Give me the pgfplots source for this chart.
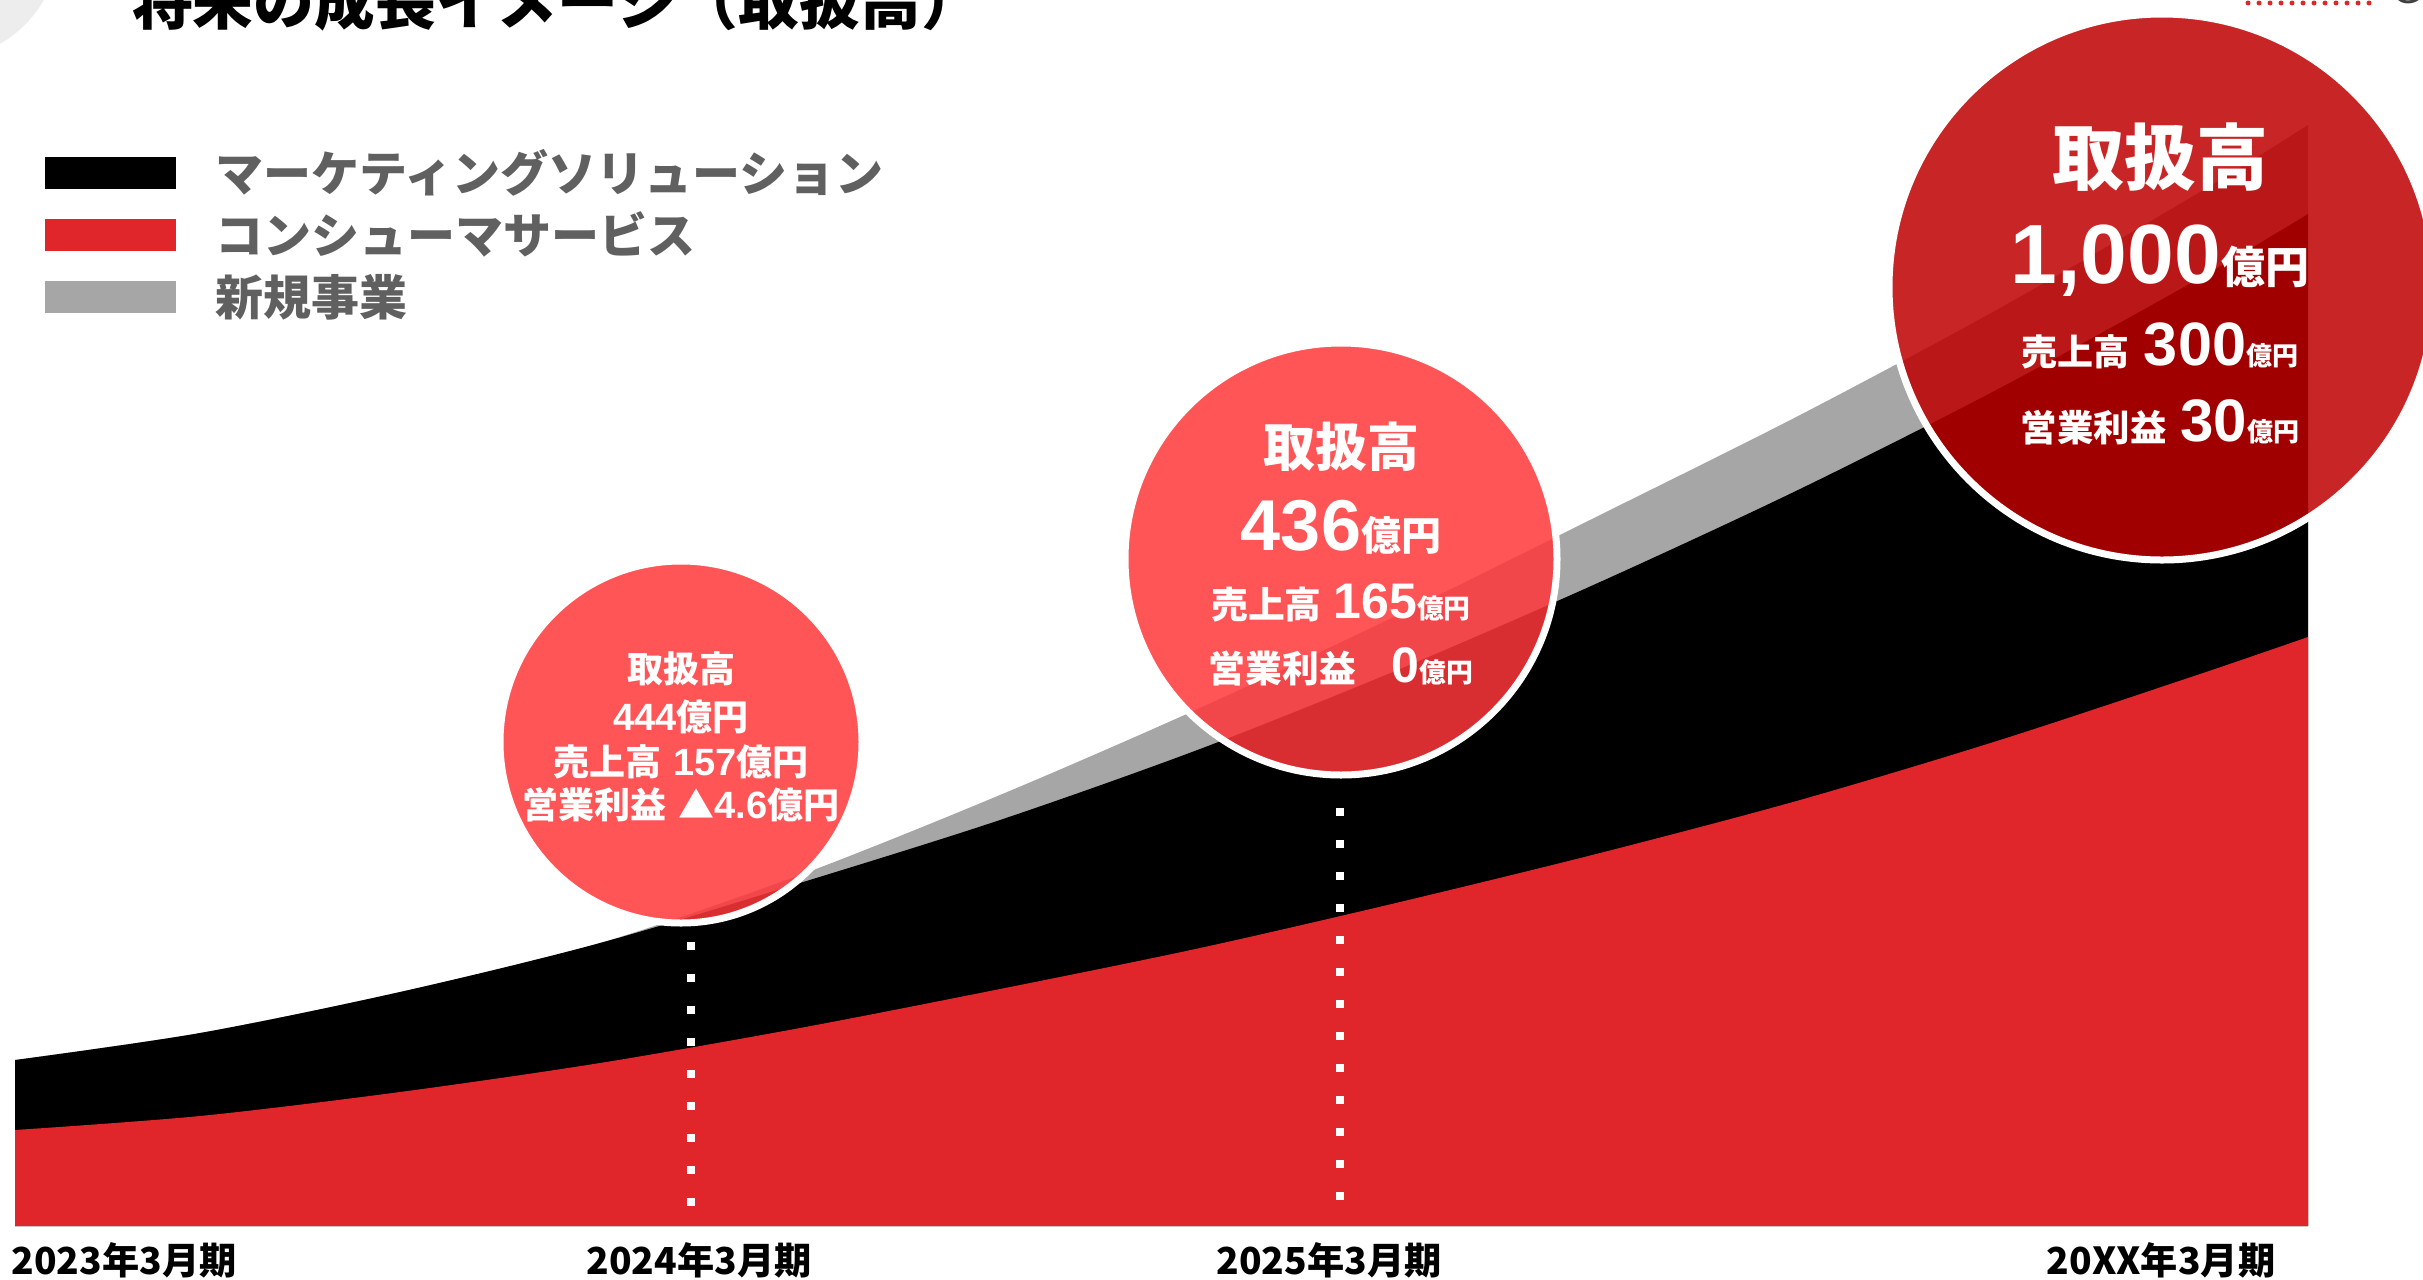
\documentclass[border=0pt]{standalone}
\usepackage{fontspec}
\setmainfont{Liberation Sans}
\newfontfamily\jp{Noto Sans CJK JP}
\usepackage{pgfplots}
\pgfplotsset{compat=1.18}
\definecolor{cred}{HTML}{E0262A}
\definecolor{cgray}{HTML}{A6A6A6}
\definecolor{legtext}{HTML}{606060}
\definecolor{bub1}{RGB}{255,55,58}
\definecolor{bub2}{RGB}{190,0,0}
\definecolor{cornergray}{HTML}{EDEDED}
\newcommand\J[1]{{\jp\bfseries #1}}
\newcommand\N[1]{{\bfseries #1}}
\newcommand\fs[1]{\fontsize{#1}{#1}\selectfont}

\pgfplotstableread{
x     top
15    166
200   193
400   234
600   283
800   351
1000  431
1200  518
1400  612
1600  711
1800  811
2000  918
2200  1034
2308  1101
}\graytop
\pgfplotstableread{
x     top
15    166
200   193
400   234
600   283
800   343
1000  406
1200  477
1400  557
1600  644
1800  737
2000  838
2200  948
2308  1012
}\blacktop
\pgfplotstableread{
x     top
15    96
200   110
400   134
600   163
800   198
1000  237
1200  278
1400  324
1600  373
1800  426
2000  486
2200  552
2308  589
}\redtop

\begin{document}
\begin{tikzpicture}
\begin{axis}[
  scale only axis, width=605.75pt, height=319.75pt,
  xmin=0, xmax=2423, ymin=-53, ymax=1226,
  axis line style={draw=none}, major tick length=0pt,
  ytick=\empty,
  xtick={124,699,1329,2161},
  xticklabels={2023年3月期,2024年3月期,2025年3月期,20XX年3月期},
  xticklabel style={font=\jp\bfseries\fs{9.3}, text=black, anchor=base, inner sep=0pt, yshift=1.1pt},
  clip=true,
  legend image code/.code={\fill[#1] (0pt,-4pt) rectangle (32.75pt,4pt);},
  legend cell align=left,
  legend style={at={(axis cs:45,1077)}, anchor=north west, draw=none, fill=none,
    inner sep=0pt, outer sep=0pt, row sep=3.5pt, font=\jp\bfseries\fs{12}, text=legtext,
    nodes={inner sep=0pt, text height=10.6pt, text depth=1.4pt},
    /tikz/every odd column/.append style={column sep=10pt}},
]
\addlegendimage{fill=black, draw=none}\addlegendentry{マーケティングソリューション}
\addlegendimage{fill=cred, draw=none}\addlegendentry{コンシューマサービス}
\addlegendimage{fill=cgray, draw=none}\addlegendentry{新規事業}

\coordinate (ll) at (rel axis cs:0,0);
\coordinate (ur) at (rel axis cs:1,1);

% decorations at top
\fill[cornergray] (axis cs:-60,1286) circle[radius=30pt];
\node[anchor=base, font=\jp\bfseries\fs{15.2}] at (axis cs:557,1202) {将来の成長イメージ（取扱高）};
\node[anchor=base west, font=\fs{10}, text=black!75] at (axis cs:2378,1223) {Group};
\draw[cred, line width=1.25pt, line cap=round, dash pattern=on 0pt off 2.75pt] (axis cs:2248,1223) -- (axis cs:2372,1223);

% areas
\addplot[fill=cgray, draw=none, smooth] table[x=x, y=top] {\graytop} \closedcycle;
\addplot[fill=black, draw=none, smooth] table[x=x, y=top] {\blacktop} \closedcycle;
\addplot[fill=cred, draw=none, smooth] table[x=x, y=top] {\redtop} \closedcycle;

% dotted year markers
\addplot[white, line width=2pt, dash pattern=on 2pt off 6pt] coordinates {(691,284) (691,18)};
\addplot[white, line width=2pt, dash pattern=on 2pt off 6pt] coordinates {(1340,418) (1340,18)};

% bubbles
\fill[bub1, opacity=0.85] (axis cs:681,484) circle[radius=45.25pt];
\draw[white, line width=1.75pt] (axis cs:681,484) circle[radius=45.25pt];
\fill[bub1, opacity=0.85] (axis cs:1341,667) circle[radius=54pt];
\draw[white, line width=1.75pt] (axis cs:1341,667) circle[radius=54pt];
\fill[bub2, opacity=0.85] (axis cs:2162,939) circle[radius=68.25pt];
\draw[white, line width=1.75pt] (axis cs:2162,939) circle[radius=68.25pt];

% bubble 1 text
\begin{scope}[every node/.style={anchor=base, text=white, inner sep=0pt, font=\fs{9}}]
\node at (axis cs:681,544) {\J{取扱高}};
\node at (axis cs:681,496) {{\fs{9.5}\N{444}}\J{億円}};
\node at (axis cs:681,451) {\J{売上高}\hspace{3pt}{\fs{9.5}\N{157}}\J{億円}};
\node at (axis cs:681,408) {\J{営業利益}\hspace{3pt}\J{▲}{\fs{9.5}\N{4.6}}\J{億円}};
% bubble 2 text
\node at (axis cs:1341,760) {\fs{13}\J{取扱高}};
\node at (axis cs:1341,676) {{\fs{18}\N{436}}{\fs{10}\J{億円}}};
\node at (axis cs:1341,608) {{\fs{9.2}\J{売上高}}\hspace{3pt}{\fs{12.5}\N{165}}{\fs{6.7}\J{億円}}};
\node at (axis cs:1341,544) {{\fs{9.2}\J{営業利益}}\hspace{9pt}{\fs{12.5}\N{0}}{\fs{6.7}\J{億円}}};
% bubble 3 text
\node at (axis cs:2160,1042) {\fs{18}\J{取扱高}};
\node at (axis cs:2160,943) {{\fs{21}\N{1,000}}{\fs{11}\J{億円}}};
\node at (axis cs:2160,861) {{\fs{9}\J{売上高}}\hspace{3.5pt}{\fs{15.3}\N{300}}{\fs{6.5}\J{億円}}};
\node at (axis cs:2160,785) {{\fs{9.1}\J{営業利益}}\hspace{3.5pt}{\fs{15}\N{30}}{\fs{6.5}\J{億円}}};
\end{scope}
\end{axis}
\pgfresetboundingbox
\useasboundingbox (ll) rectangle (ur);
\end{tikzpicture}
\end{document}
